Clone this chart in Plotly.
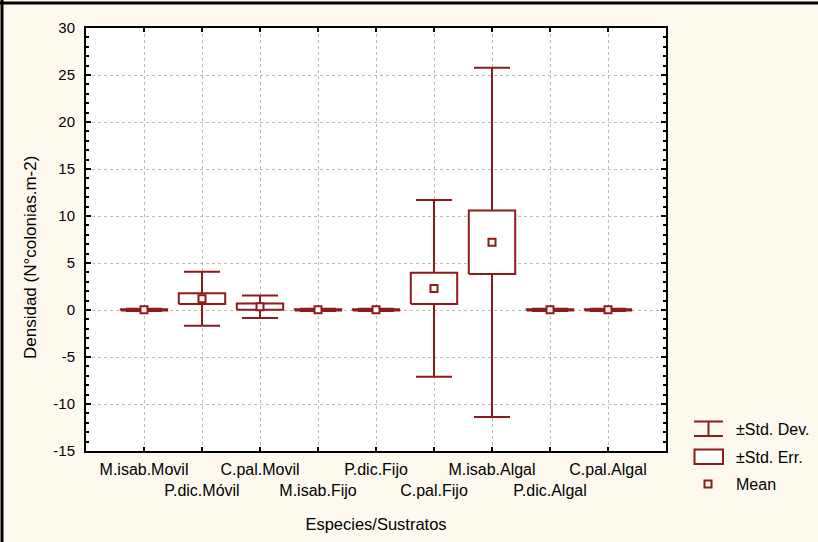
import plotly.graph_objects as go

# ---- data ----
categories = ["M.isab.Movil", "P.dic.Móvil", "C.pal.Movil", "M.isab.Fijo", "P.dic.Fijo",
              "C.pal.Fijo", "M.isab.Algal", "P.dic.Algal", "C.pal.Algal"]
means = [0.02, 1.20, 0.35, 0.02, 0.02, 2.30, 7.20, 0.02, 0.02]
std_err = [0.06, 0.57, 0.33, 0.06, 0.06, 1.67, 3.38, 0.06, 0.06]
std_dev = [0.12, 2.87, 1.20, 0.12, 0.12, 9.41, 18.57, 0.12, 0.12]
y_ticks = [-15, -10, -5, 0, 5, 10, 15, 20, 25, 30]
legend_labels = ["±Std. Dev.", "±Std. Err.", "Mean"]
x_title = "Especies/Sustratos"
y_title = "Densidad (N°colonias.m-2)"

# ---- style ----
W, H = 818, 542
ML, MR, MT, MB = 86, 152, 28, 91
RED = "#8e1b1b"
BG = "#fef9ee"
GRID = "#bdbdbd"
FONT = "Liberation Sans, Arial, sans-serif"
HALF_BOX = 0.4

PW, PH = W - ML - MR, H - MT - MB


def px(X):
    return (X - ML) / PW


def py(Y):
    return (H - MB - Y) / PH


positions = list(range(1, len(categories) + 1))

fig = go.Figure()

# SD whiskers
fig.add_trace(go.Scatter(
    x=positions, y=means, mode="markers",
    marker=dict(color="rgba(0,0,0,0)", size=1),
    error_y=dict(type="data", array=std_dev, symmetric=True, color=RED,
                 thickness=2, width=18),
    hoverinfo="skip", showlegend=False))

# SE boxes
bx, by = [], []
for p, m, s in zip(positions, means, std_err):
    bx += [p - HALF_BOX, p + HALF_BOX, p + HALF_BOX, p - HALF_BOX, p - HALF_BOX, None]
    by += [m - s, m - s, m + s, m + s, m - s, None]
fig.add_trace(go.Scatter(
    x=bx, y=by, mode="lines", fill="toself", fillcolor="white",
    line=dict(color=RED, width=2), hoverinfo="skip", showlegend=False))

# Means
fig.add_trace(go.Scatter(
    x=positions, y=means, mode="markers",
    marker=dict(symbol="square", size=7, color="white", line=dict(color=RED, width=2)),
    showlegend=False))

ticktext = [c if i % 2 == 0 else "<br>" + c for i, c in enumerate(categories)]
y_ticktext = [str(v) for v in y_ticks]

fig.update_layout(
    width=W, height=H,
    margin=dict(l=ML, r=MR, t=MT, b=MB, autoexpand=False),
    paper_bgcolor=BG, plot_bgcolor="white",
    font=dict(family=FONT, size=16, color="black"),
    showlegend=False,
    xaxis=dict(
        range=[0, len(categories) + 1], tickmode="array", tickvals=positions, ticktext=ticktext,
        tickangle=0, ticklabelstandoff=3,
        ticks="inside", ticklen=4, tickwidth=1.5, tickcolor="black",
        showline=True, linecolor="black", linewidth=2, mirror="ticks",
        showgrid=True, gridcolor=GRID, griddash="dot", gridwidth=1, zeroline=False,
        tickfont=dict(size=16), automargin=False,
        title=dict(text=x_title, font=dict(size=16.5), standoff=20),
    ),
    yaxis=dict(
        range=[-15, 30], tickmode="array", tickvals=y_ticks, ticktext=y_ticktext,
        ticklabelstandoff=6,
        ticks="inside", ticklen=5, tickwidth=1.5, tickcolor="black",
        minor=dict(dtick=1, tick0=0, ticks="inside", ticklen=3, tickcolor="black", showgrid=False),
        showline=True, linecolor="black", linewidth=2, mirror="ticks",
        showgrid=True, gridcolor=GRID, griddash="dot", gridwidth=1, zeroline=False,
        tickfont=dict(size=15), automargin=False,
    ),
)

# y-axis title (placed as in the reference, slightly below the plot centre)
fig.add_annotation(xref="paper", yref="paper", x=px(30), y=py(258), text=y_title,
                   textangle=-90, showarrow=False, xanchor="center", yanchor="middle",
                   font=dict(size=17, family=FONT, color="black"))

shapes = []
# outer frame (left and top edges visible)
shapes.append(dict(type="line", xref="paper", yref="paper", x0=px(2), x1=px(2),
                   y0=py(0), y1=py(H), line=dict(color="black", width=3)))
shapes.append(dict(type="line", xref="paper", yref="paper", x0=px(0), x1=px(W),
                   y0=py(3), y1=py(3), line=dict(color="black", width=3)))

# legend icons
# Std. Dev.
shapes.append(dict(type="line", xref="paper", yref="paper", x0=px(708.5), x1=px(708.5),
                   y0=py(421.5), y1=py(436), line=dict(color=RED, width=2)))
shapes.append(dict(type="line", xref="paper", yref="paper", x0=px(694), x1=px(723),
                   y0=py(421.5), y1=py(421.5), line=dict(color=RED, width=2)))
shapes.append(dict(type="line", xref="paper", yref="paper", x0=px(694), x1=px(723),
                   y0=py(436), y1=py(436), line=dict(color=RED, width=2)))
# Std. Err.
shapes.append(dict(type="rect", xref="paper", yref="paper", x0=px(694.5), x1=px(723),
                   y0=py(449.5), y1=py(464), fillcolor="white", line=dict(color=RED, width=2)))
# Mean
shapes.append(dict(type="rect", xref="paper", yref="paper", x0=px(704.5), x1=px(711.5),
                   y0=py(480.5), y1=py(487.5), fillcolor="white", line=dict(color=RED, width=2)))
fig.update_layout(shapes=shapes)

for lbl, yc in zip(legend_labels, [429, 457, 484]):
    fig.add_annotation(xref="paper", yref="paper", x=px(734), y=py(yc), text=lbl,
                       showarrow=False, xanchor="left", yanchor="middle",
                       font=dict(size=16, family=FONT, color="black"))

fig.write_html(
    "out.html",
    config={"displayModeBar": False},
    post_script="document.body.style.margin='0';document.body.style.overflow='hidden';",
)
